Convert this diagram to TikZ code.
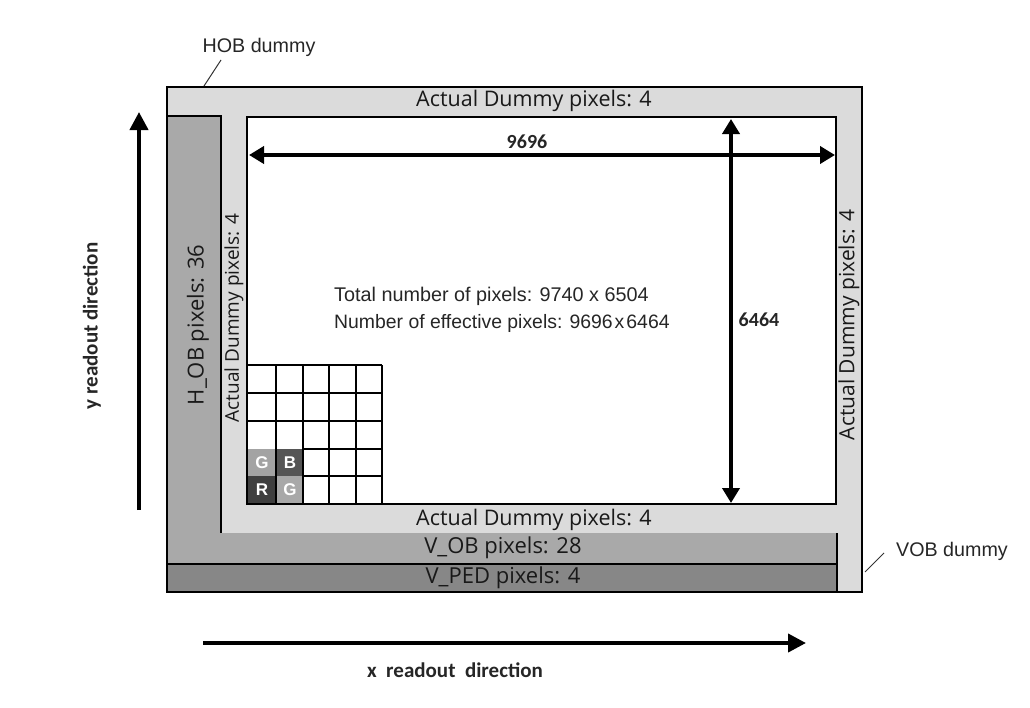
\documentclass[tikz,border=0pt]{standalone}
\usepackage{fontspec}
\setmainfont{Liberation Sans}
\newfontfamily\opensans{Open Sans}
\newfontfamily\carlito{Carlito}
\usetikzlibrary{arrows.meta}
\definecolor{lightg}{HTML}{DBDBDB}
\definecolor{midg}{HTML}{A9A9A9}
\definecolor{darkg}{HTML}{878787}
\definecolor{cellG}{HTML}{A3A3A3}
\definecolor{cellB}{HTML}{555555}
\definecolor{cellR}{HTML}{3F3F3F}
\begin{document}
\begin{tikzpicture}[x=1pt,y=-1pt,
  boxlabel/.style={font=\opensans\fontsize{21.5}{24}\selectfont, inner sep=0pt, text=black!90},
  infolabel/.style={font=\fontsize{19.8}{22}\selectfont, inner sep=0pt, text=black!85},
  dimlabel/.style={font=\carlito\bfseries\fontsize{20}{24}\selectfont, inner sep=0pt, text=black!85},
  dirlabel/.style={font=\carlito\bfseries\fontsize{21}{24}\selectfont, inner sep=0pt, text=black!85},
  dummylabel/.style={font=\fontsize{19.7}{22}\selectfont, inner sep=0pt, text=black!85},
  celllabel/.style={font=\bfseries\fontsize{17}{20}\selectfont, inner sep=0pt, text=white},
  frameline/.style={line width=2.2pt, black},
  gridline/.style={line width=1.8pt, black},
  dimarrow/.style={line width=4pt, {Triangle[length=15pt,width=17pt]}-{Triangle[length=15pt,width=17pt]}},
  dirarrow/.style={line width=4pt, -{Triangle[length=18pt,width=18pt]}},
  leader/.style={line width=1pt, black!80}]
\useasboundingbox (0,0) rectangle (1030,707);
% fills
\fill[lightg] (167,87) rectangle (862,592);
\fill[midg] (167,116) rectangle (221,564);
\fill[midg] (167,533) rectangle (837,564);
\fill[darkg] (167,564) rectangle (837,592);
\fill[white] (247,117) rectangle (836,504);
% frame lines
\draw[frameline] (167,87) rectangle (862,592);
\draw[frameline] (167,116) -- (221,116) -- (221,533);
\draw[frameline] (837,533) -- (837,592);
\draw[frameline] (167,564) -- (837,564);
\draw[frameline] (247,117) rectangle (836,504);
% pixel grid
\fill[cellG] (247,449) rectangle (276,476);
\fill[cellB] (276,449) rectangle (303,476);
\fill[cellR] (247,476) rectangle (276,504);
\fill[cellG!95!white] (276,476) rectangle (303,504);
\foreach \gx in {276,303,329,356,382} \draw[gridline] (\gx,365) -- (\gx,504);
\foreach \gy in {365,393,421} \draw[gridline] (247,\gy) -- (382,\gy);
\foreach \gy in {449,476} \draw[gridline] (303,\gy) -- (382,\gy);
\draw[gridline] (247,365) -- (247,504) -- (382,504);
\node[celllabel] (cg1) at (262,463) {G};
\node[celllabel] (cb) at (290,463) {B};
\node[celllabel] (cr) at (262,490) {R};
\node[celllabel] (cg2) at (290,490) {G};
% box labels
\node[boxlabel] (adtop) at (534,101) {Actual Dummy pixels: 4};
\node[boxlabel] (adbot) at (534,520) {Actual Dummy pixels: 4};
\node[boxlabel, rotate=90, font=\opensans\fontsize{19}{22}\selectfont] (adleft) at (234,318) {Actual Dummy pixels: 4};
\node[boxlabel, rotate=90, font=\opensans\fontsize{21}{22}\selectfont] (adright) at (849,325) {Actual Dummy pixels: 4};
\node[boxlabel, rotate=90, font=\opensans\fontsize{22}{24}\selectfont] (hob) at (198,325) {H\_OB pixels: 36};
\node[boxlabel, font=\opensans\fontsize{22}{24}\selectfont] (vob) at (503,548) {V\_OB pixels: 28};
\node[boxlabel, font=\opensans\fontsize{22}{24}\selectfont] (vped) at (503,578) {V\_PED pixels: 4};
% info text
\node[infolabel, anchor=west] (total) at (334,296) {Total number of pixels: 9740 x 6504};
\node[infolabel, anchor=west, font=\fontsize{19.4}{22}\selectfont] (eff) at (334,323) {Number of effective pixels: 9696\hspace{2pt}x\hspace{2pt}6464};
% dimension arrows
\coordinate (hl) at (249,155);
\coordinate (hr) at (835,155);
\coordinate (vt) at (731,119);
\coordinate (vb) at (731,503);
\draw[dimarrow] (hl) -- (hr);
\draw[dimarrow] (vt) -- (vb);
\node[dimlabel] (w) at (527,142) {9696};
\node[dimlabel] (h) at (759,320) {6464};
% readout arrows
\coordinate (ys) at (139,510);
\coordinate (ye) at (139,112);
\coordinate (xs) at (203,643);
\coordinate (xe) at (806,643);
\draw[dirarrow] (ys) -- (ye);
\draw[dirarrow] (xs) -- (xe);
\node[dirlabel, rotate=90] (ylab) at (92,326) {y readout direction};
\node[dirlabel] (xlab) at (455,670) {x\ \ readout\ \ direction};
% dummy callouts
\node[dummylabel] (hobd) at (259,47) {HOB dummy};
\node[dummylabel] (vobd) at (952,551) {VOB dummy};
\coordinate (hobtip) at (204,86);
\coordinate (vobtip) at (865,572);
\draw[leader] (221,60) -- (hobtip);
\draw[leader] (884,553) -- (vobtip);
\end{tikzpicture}
\end{document}
